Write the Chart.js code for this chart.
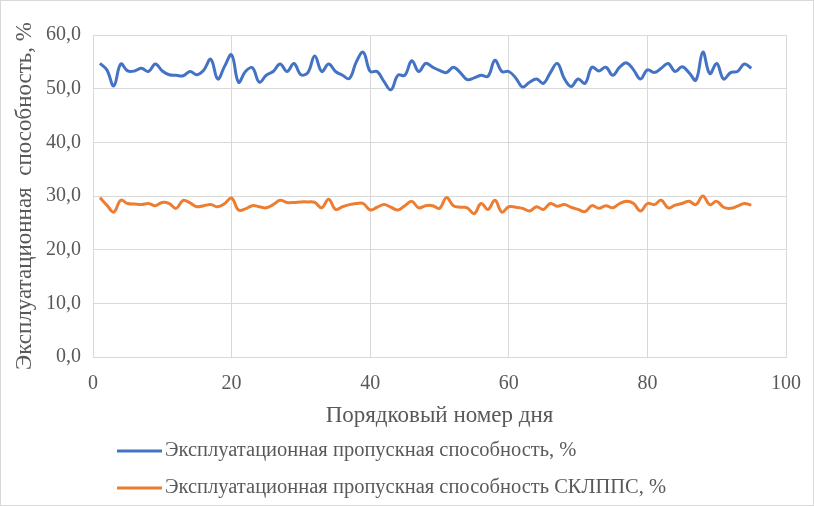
<!DOCTYPE html>
<html lang="ru">
<head>
<meta charset="utf-8">
<title>Эксплуатационная пропускная способность</title>
<script src="https://cdn.jsdelivr.net/npm/chart.js@4.4.1/dist/chart.umd.min.js"></script>
<style>
    html, body { margin: 0; padding: 0; background: #ffffff; }
    #wrap { position: relative; width: 814px; height: 506px; }
</style>
</head>
<body>
<div id="wrap"><canvas id="chart" width="814" height="506"></canvas></div>
<script>
// Данные графика
const days = [
    1, 2, 3, 4, 5, 6, 7, 8, 9, 10, 11, 12, 13, 14, 15, 16, 17, 18, 19, 20,
    21, 22, 23, 24, 25, 26, 27, 28, 29, 30, 31, 32, 33, 34, 35, 36, 37, 38, 39, 40,
    41, 42, 43, 44, 45, 46, 47, 48, 49, 50, 51, 52, 53, 54, 55, 56, 57, 58, 59, 60,
    61, 62, 63, 64, 65, 66, 67, 68, 69, 70, 71, 72, 73, 74, 75, 76, 77, 78, 79, 80,
    81, 82, 83, 84, 85, 86, 87, 88, 89, 90, 91, 92, 93, 94, 95
];

const capacity = [
    54.7, 53.5, 50.5, 54.6, 53.3, 53.3, 53.8, 53.2, 54.6, 53.3,
    52.6, 52.5, 52.4, 53.2, 52.6, 53.5, 55.5, 51.8, 54.2, 56.3,
    51.2, 53.2, 53.9, 51.2, 52.5, 53.2, 54.6, 53.2, 54.7, 52.6,
    53.0, 56.1, 53.2, 54.6, 53.2, 52.5, 51.9, 55.0, 56.8, 53.2,
    53.2, 51.3, 49.8, 52.5, 52.5, 55.2, 53.2, 54.7, 54.0, 53.4,
    53.0, 54.0, 53.0, 51.7, 52.0, 52.5, 52.3, 55.3, 53.2, 53.2,
    52.0, 50.3, 51.2, 51.8, 51.0, 53.0, 54.7, 51.9, 50.4, 51.8,
    51.0, 54.0, 53.3, 54.0, 52.5, 54.0, 54.8, 53.5, 51.8, 53.5,
    53.0, 53.8, 54.7, 53.2, 54.1, 53.0, 51.6, 56.8, 52.8, 54.7,
    51.8, 53.0, 53.2, 54.6, 53.8
];

const capacitySklpps = [
    29.7, 28.3, 27.0, 29.2, 28.6, 28.5, 28.4, 28.6, 28.2, 28.8,
    28.6, 27.7, 29.2, 28.7, 28.0, 28.2, 28.4, 28.0, 28.6, 29.6,
    27.4, 27.6, 28.2, 28.0, 27.8, 28.4, 29.2, 28.8, 28.8, 28.9,
    28.9, 28.8, 27.8, 29.4, 27.5, 28.0, 28.4, 28.6, 28.6, 27.4,
    27.9, 28.4, 27.9, 27.4, 28.2, 29.0, 27.8, 28.2, 28.2, 27.7,
    29.7, 28.2, 27.9, 27.8, 26.7, 28.6, 27.5, 29.2, 27.0, 28.0,
    27.9, 27.7, 27.2, 28.0, 27.5, 28.6, 28.1, 28.4, 27.9, 27.5,
    27.1, 28.2, 27.7, 28.2, 27.8, 28.6, 29.0, 28.6, 27.2, 28.6,
    28.4, 29.2, 27.8, 28.3, 28.6, 29.0, 28.4, 30.0, 28.4, 29.0,
    27.9, 27.7, 28.1, 28.6, 28.3
];

const seriesNames = [
    'Эксплуатационная пропускная способность, %',
    'Эксплуатационная пропускная способность СКЛППС, %'
];
const seriesColors = ['#4472C4', '#ED7D31'];

const xTitle = 'Порядковый номер дня';
const yTitle = 'Эксплуатационная  способность, %';

const FONT = "'Liberation Serif', 'Times New Roman', serif";
const TEXT_COLOR = '#595959';
const GRID_COLOR = '#d9d9d9';

// Рамка вокруг всей диаграммы
const framePlugin = {
    id: 'frame',
    beforeDraw(chart) {
        const ctx = chart.ctx;
        ctx.save();
        ctx.fillStyle = '#ffffff';
        ctx.fillRect(0, 0, chart.width, chart.height);
        ctx.strokeStyle = GRID_COLOR;
        ctx.lineWidth = 1;
        ctx.strokeRect(0.5, 0.5, chart.width - 1, chart.height - 1);
        ctx.restore();
    }
};

// Легенда внизу, по одной серии в строке, выровнена влево
const stackedLegend = {
    id: 'stackedLegend',
    afterDraw(chart) {
        const ctx = chart.ctx;
        ctx.save();
        ctx.font = '20.5px ' + FONT;
        ctx.textBaseline = 'middle';
        ctx.textAlign = 'left';
        chart.data.datasets.forEach((ds, i) => {
            const y = 451 + i * 37;
            ctx.strokeStyle = ds.borderColor;
            ctx.lineWidth = 3;
            ctx.beginPath();
            ctx.moveTo(117, y);
            ctx.lineTo(162, y);
            ctx.stroke();
            ctx.fillStyle = TEXT_COLOR;
            ctx.fillText(ds.label, 165, y);
        });
        ctx.restore();
    }
};

function makeDataset(values, idx) {
    return {
        label: seriesNames[idx],
        data: days.map((d, i) => ({ x: d, y: values[i] })),
        borderColor: seriesColors[idx],
        backgroundColor: seriesColors[idx],
        borderWidth: 3,
        pointRadius: 0,
        tension: 0.4,
        fill: false
    };
}

new Chart(document.getElementById('chart'), {
    type: 'line',
    data: {
        datasets: [makeDataset(capacity, 0), makeDataset(capacitySklpps, 1)]
    },
    options: {
        responsive: false,
        animation: false,
        layout: {
            padding: { top: 35, right: 28, left: 0, bottom: 69 }
        },
        plugins: {
            legend: { display: false },
            tooltip: { enabled: false }
        },
        scales: {
            x: {
                type: 'linear',
                min: 0,
                max: 100,
                afterFit: (scale) => {
                    scale.height = 80;
                    scale.paddingLeft = 0;
                    scale.paddingRight = 0;
                },
                grid: { color: GRID_COLOR, drawTicks: false },
                border: { color: GRID_COLOR },
                ticks: {
                    stepSize: 20,
                    padding: 15,
                    color: TEXT_COLOR,
                    font: { family: FONT, size: 20 }
                },
                title: {
                    display: true,
                    text: xTitle,
                    color: TEXT_COLOR,
                    font: { family: FONT, size: 23 },
                    padding: { top: 0, bottom: 7 }
                }
            },
            y: {
                min: 0,
                max: 60,
                afterFit: (scale) => { scale.width = 93; },
                grid: { color: GRID_COLOR, drawTicks: false },
                border: { color: GRID_COLOR },
                ticks: {
                    stepSize: 10,
                    padding: 12,
                    color: TEXT_COLOR,
                    font: { family: FONT, size: 20 },
                    callback: (v) => v.toFixed(1).replace('.', ',')
                },
                title: {
                    display: true,
                    text: yTitle,
                    color: TEXT_COLOR,
                    font: { family: FONT, size: 23 },
                    padding: { top: 11, bottom: 0 }
                }
            }
        }
    },
    plugins: [framePlugin, stackedLegend]
});
</script>
</body>
</html>
